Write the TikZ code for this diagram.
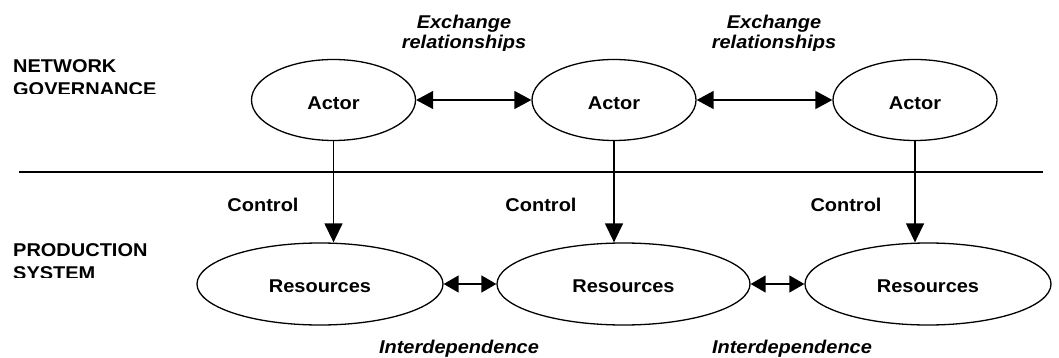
\documentclass[tikz,border=0pt]{standalone}
\usepackage{fontspec}
\setmainfont{Liberation Sans}[FakeStretch=1.08]
\usetikzlibrary{arrows.meta,shapes.geometric}
\begin{document}
\begin{tikzpicture}[x=1pt,y=-1pt,
  txt/.style={font=\fontsize{18.5}{22}\selectfont\bfseries, inner sep=0pt},
  itx/.style={font=\fontsize{18.5}{22}\selectfont\bfseries\itshape, inner sep=0pt},
  actor/.style={ellipse, draw, line width=1.3pt, minimum width=164pt, minimum height=81pt, txt, text height=19pt, text depth=0pt},
  res/.style={ellipse, draw, line width=1.3pt, minimum width=246pt, minimum height=82pt, txt, text height=17.5pt, text depth=0pt},
  link/.style={line width=1.4pt, {Triangle[length=17pt,width=18pt]}-{Triangle[length=17pt,width=18pt]}},
  rlink/.style={line width=1.4pt, {Triangle[length=15pt,width=17pt]}-{Triangle[length=15pt,width=17pt]}},
  ctl/.style={line width=1.4pt, -{Triangle[length=19pt,width=18pt]}},
  rule/.style={line width=1.4pt}
]
\useasboundingbox (0,0) rectangle (1059,358);

% ellipses
\node[actor] (a1) at (333.5,100) {Actor};
\node[actor] (a2) at (614,100) {Actor};
\node[actor] (a3) at (915,100) {Actor};
\node[res] (r1) at (320,284) {Resources};
\node[res, minimum width=253pt] (r2) at (623.5,284) {Resources};
\node[res] (r3) at (928,284) {Resources};

% dividing line
\coordinate (hl) at (19,172);
\coordinate (hr) at (1043,172);
\draw[rule] (hl) -- (hr);

% connectors
\draw[link] (a1.east) -- (a2.west);
\draw[link] (a2.east) -- (a3.west);
\draw[rlink] (r1.east) -- (r2.west);
\draw[rlink] (r2.east) -- (r3.west);
\draw[ctl] (a1.south) -- (a1.south |- r1.north);
\draw[ctl] (a2.south) -- (a2.south |- r2.north);
\draw[ctl] (a3.south) -- (a3.south |- r3.north);

% labels
\node[txt, anchor=base] (c1) at (263,211) {Control};
\node[txt, anchor=base] (c2) at (541,211) {Control};
\node[txt, anchor=base] (c3) at (846,211) {Control};

\node[itx, anchor=base] (e1) at (464,28.3) {Exchange};
\node[itx, anchor=base] (e2) at (774,28.3) {Exchange};
\begin{scope}
  \clip (0,0) rectangle (1059,51);
  \node[itx, anchor=base] (rl1) at (464,49) {relationships};
  \node[itx, anchor=base] (rl2) at (774,49) {relationships};
\end{scope}

\node[itx, anchor=base] (i1) at (459,353) {Interdependence};
\node[itx, anchor=base] (i2) at (792,353) {Interdependence};

\node[txt, anchor=base west] (ng1) at (13,73) {NETWORK};
\begin{scope}
  \clip (0,0) rectangle (250,94);
  \node[txt, anchor=base west] (ng2) at (13,95.5) {GOVERNANCE};
\end{scope}
\node[txt, anchor=base west] (ps1) at (13,256) {PRODUCTION};
\begin{scope}
  \clip (0,200) rectangle (250,277);
  \node[txt, anchor=base west] (ps2) at (13,279) {SYSTEM};
\end{scope}
\end{tikzpicture}
\end{document}
